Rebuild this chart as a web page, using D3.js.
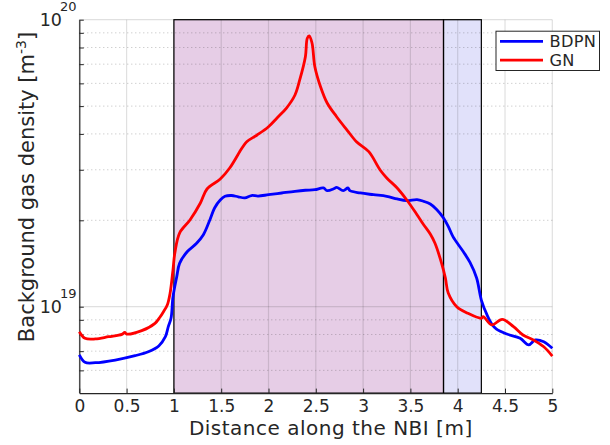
<!DOCTYPE html>
<html>
<head>
<meta charset="utf-8">
<script src="https://cdn.jsdelivr.net/npm/d3@7"></script>
<style>
  body { margin: 0; background: #fff; }
  text { font-family: "DejaVu Sans", Verdana, sans-serif; fill: #262626; }
</style>
</head>
<body>
<svg id="chart" width="610" height="445"></svg>
<script>
// Background gas density along the NBI path (densities in units of 1e19 m^-3)
const bdpnX = [0.00,0.06,0.17,0.38,0.59,0.73,0.84,0.91,0.94,0.97,0.99,1.03,1.06,1.14,1.24,1.31,1.38,1.43,1.49,1.54,1.61,1.68,1.75,1.82,1.89,2.00,2.14,2.28,2.39,2.49,2.58,2.62,2.69,2.72,2.79,2.84,2.86,2.97,3.11,3.25,3.36,3.46,3.57,3.64,3.71,3.78,3.85,3.90,3.95,4.06,4.13,4.20,4.25,4.31,4.36,4.41,4.52,4.66,4.75,4.82,4.91,5.00];
const bdpnDensity = [0.679,0.640,0.638,0.652,0.675,0.697,0.730,0.786,0.850,0.913,1.081,1.272,1.416,1.554,1.663,1.777,2.005,2.208,2.354,2.425,2.440,2.415,2.395,2.440,2.430,2.456,2.490,2.524,2.545,2.557,2.592,2.537,2.577,2.606,2.537,2.592,2.537,2.490,2.456,2.425,2.373,2.341,2.360,2.329,2.279,2.178,2.038,1.906,1.754,1.554,1.426,1.259,1.055,0.936,0.870,0.836,0.803,0.776,0.736,0.766,0.755,0.716];

const gnX = [0.00,0.06,0.17,0.31,0.45,0.48,0.50,0.66,0.80,0.85,0.89,0.93,0.96,0.99,1.01,1.06,1.17,1.28,1.35,1.49,1.59,1.72,1.77,1.88,2.00,2.09,2.19,2.28,2.33,2.39,2.41,2.43,2.46,2.49,2.55,2.62,2.72,2.83,2.93,3.06,3.18,3.25,3.36,3.46,3.57,3.64,3.71,3.76,3.83,3.87,3.90,3.99,4.10,4.25,4.27,4.36,4.47,4.59,4.69,4.80,4.91,5.00];
const gnDensity = [0.818,0.776,0.772,0.786,0.801,0.814,0.803,0.825,0.875,0.917,0.961,1.014,1.116,1.342,1.539,1.806,2.005,2.298,2.571,2.786,3.043,3.573,3.757,3.965,4.238,4.545,4.923,5.466,6.166,7.432,8.614,8.774,8.294,6.859,5.842,5.127,4.592,4.127,3.757,3.468,2.995,2.809,2.592,2.359,2.092,1.931,1.792,1.663,1.416,1.259,1.116,1.000,0.951,0.911,0.923,0.864,0.904,0.852,0.797,0.766,0.725,0.673];

const seriesNames = ["BDPN", "GN"];
const seriesColors = ["#0000ff", "#ff0000"];

// Shaded zones along the beam line [start, end] in m
const zoneStarts = [1.00, 3.85];
const zoneEnds = [3.85, 4.25];
const zoneFills = ["#e6cde6", "#e1e1fa"];

const xTicks = [0, 0.5, 1, 1.5, 2, 2.5, 3, 3.5, 4, 4.5, 5];
const xTickLabels = ["0", "0.5", "1", "1.5", "2", "2.5", "3", "3.5", "4", "4.5", "5"];
const yMajorTicks = [1e19, 1e20];
const yMajorExponents = ["19", "20"];
const yMinorTicks = [6e18, 7e18, 8e18, 9e18, 2e19, 3e19, 4e19, 5e19, 6e19, 7e19, 8e19, 9e19];

const UNIT = 1e19;
const plot = { left: 79.3, right: 552.3, top: 19.7, bottom: 393.1 };

const svg = d3.select("#chart");
const x = d3.scaleLinear().domain([0, 5]).range([plot.left, plot.right]);
const y = d3.scaleLog().domain([5e18, 1e20]).range([plot.bottom, plot.top]);

// shaded zones
svg.append("g").selectAll("rect")
  .data(zoneStarts.map((s, i) => ({ s, e: zoneEnds[i], fill: zoneFills[i] })))
  .join("rect")
  .attr("x", d => x(d.s))
  .attr("y", plot.top)
  .attr("width", d => x(d.e) - x(d.s))
  .attr("height", plot.bottom - plot.top)
  .attr("fill", d => d.fill);

// grid: vertical major lines, horizontal major and dotted minor lines
const grid = svg.append("g");
grid.selectAll("line.vx").data(xTicks).join("line")
  .attr("x1", d => x(d)).attr("x2", d => x(d))
  .attr("y1", plot.top).attr("y2", plot.bottom)
  .attr("stroke", "#262626").attr("stroke-opacity", 0.14).attr("stroke-width", 1.2);
grid.selectAll("line.hy").data(yMajorTicks).join("line")
  .attr("x1", plot.left).attr("x2", plot.right)
  .attr("y1", d => y(d)).attr("y2", d => y(d))
  .attr("stroke", "#262626").attr("stroke-opacity", 0.14).attr("stroke-width", 1.2);
grid.selectAll("line.my").data(yMinorTicks).join("line")
  .attr("x1", plot.left).attr("x2", plot.right)
  .attr("y1", d => y(d)).attr("y2", d => y(d))
  .attr("stroke", "#262626").attr("stroke-opacity", 0.3).attr("stroke-width", 1)
  .attr("stroke-dasharray", "1,3");

// zone outlines
svg.append("g").selectAll("rect")
  .data(zoneStarts.map((s, i) => ({ s, e: zoneEnds[i] })))
  .join("rect")
  .attr("x", d => x(d.s))
  .attr("y", plot.top)
  .attr("width", d => x(d.e) - x(d.s))
  .attr("height", plot.bottom - plot.top)
  .attr("fill", "none")
  .attr("stroke", "#000").attr("stroke-width", 1.2);

// axes
const xAxis = d3.axisBottom(x).tickValues(xTicks)
  .tickFormat((d, i) => xTickLabels[i]).tickSizeInner(-4.5).tickSizeOuter(0).tickPadding(6.8);
const gx = svg.append("g").attr("transform", `translate(0,${plot.bottom})`).call(xAxis);
gx.select(".domain").attr("stroke", "#262626").attr("stroke-width", 1.2);
gx.selectAll(".tick line").attr("stroke", "#262626");
gx.selectAll(".tick text").attr("font-size", 17).attr("fill", "#262626")
  .attr("font-family", "DejaVu Sans, Verdana, sans-serif").attr("dy", "0.71em");

const yAxis = d3.axisLeft(y).tickValues(yMajorTicks.concat(yMinorTicks))
  .tickFormat("").tickSizeInner(-4.5).tickSizeOuter(0);
const gy = svg.append("g").attr("transform", `translate(${plot.left},0)`).call(yAxis);
gy.select(".domain").attr("stroke", "#262626").attr("stroke-width", 1.2);
gy.selectAll(".tick line").attr("stroke", "#262626");

// power-of-ten labels
const yLabels = svg.append("g");
yMajorTicks.forEach((v, i) => {
  yLabels.append("text")
    .attr("x", 62).attr("y", y(v) + 6.6)
    .attr("text-anchor", "end").attr("font-size", 17.5)
    .text("10");
  yLabels.append("text")
    .attr("x", 60).attr("y", y(v) - 8.5)
    .attr("font-size", 13)
    .text(yMajorExponents[i]);
});

// series lines
const line = d3.line()
  .x(d => x(d[0]))
  .y(d => y(d[1] * UNIT))
  .curve(d3.curveCatmullRom.alpha(0.5));

const series = [
  { name: seriesNames[0], color: seriesColors[0], pts: bdpnX.map((v, i) => [v, bdpnDensity[i]]) },
  { name: seriesNames[1], color: seriesColors[1], pts: gnX.map((v, i) => [v, gnDensity[i]]) }
];
svg.append("g").selectAll("path")
  .data(series).join("path")
  .attr("d", d => line(d.pts))
  .attr("fill", "none")
  .attr("stroke", d => d.color)
  .attr("stroke-width", 2.8)
  .attr("stroke-linejoin", "round");

// axis titles
svg.append("text")
  .attr("x", 330.8).attr("y", 435)
  .attr("text-anchor", "middle").attr("font-size", 20)
  .attr("letter-spacing", 0.5)
  .text("Distance along the NBI [m]");

const yTitle = svg.append("text")
  .attr("transform", "translate(33.5,187) rotate(-90)")
  .attr("text-anchor", "middle").attr("font-size", 21);
yTitle.append("tspan").text("Background gas density [m");
yTitle.append("tspan").attr("font-size", 14).attr("dy", -8).text("-3");
yTitle.append("tspan").attr("dy", 8).text("]");

// legend
const legend = svg.append("g");
legend.append("rect")
  .attr("x", 496).attr("y", 31.2).attr("width", 103.5).attr("height", 39.3)
  .attr("fill", "#fff").attr("stroke", "#262626").attr("stroke-width", 1);
series.forEach((s, i) => {
  const ly = 41.4 + i * 18.8;
  legend.append("line")
    .attr("x1", 500).attr("x2", 543).attr("y1", ly).attr("y2", ly)
    .attr("stroke", s.color).attr("stroke-width", 2.8);
  legend.append("text")
    .attr("x", 549.5).attr("y", ly + 6)
    .attr("font-size", 16.2).attr("letter-spacing", 0.3)
    .text(s.name);
});
</script>
</body>
</html>
